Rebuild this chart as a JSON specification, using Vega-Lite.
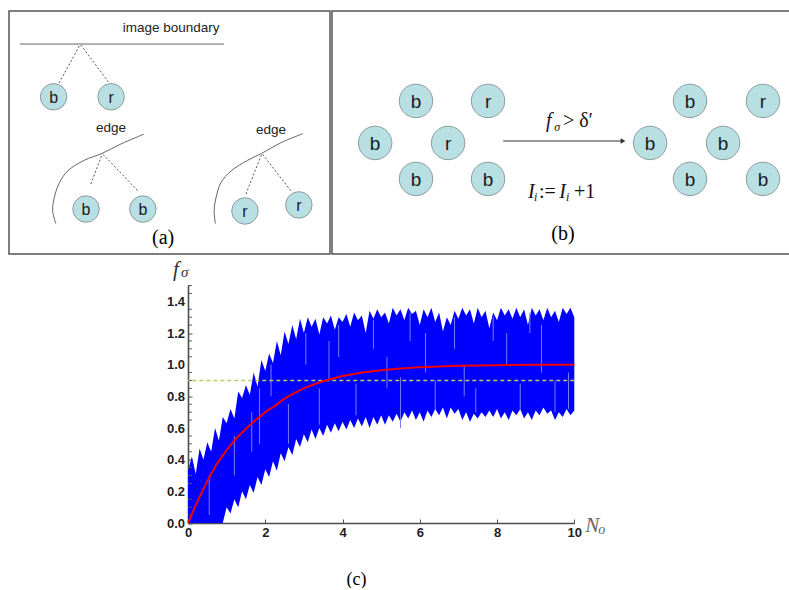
{
"$schema": "https://vega.github.io/schema/vega-lite/v6.json",
"background": "white",
"padding": {"left": 8, "top": 10, "right": 1, "bottom": 0},
"spacing": 3.5,
"config": {
  "view": {"stroke": null},
  "concat": {"spacing": 0},
  "text": {"font": "Liberation Sans"},
  "axis": {"grid": false, "domainColor": "#4d4d4d", "domainWidth": 1.6, "tickColor": "#555", "tickWidth": 1, "tickSize": -4, "labelFont": "Liberation Sans", "labelFontWeight": "bold", "labelFontSize": 13, "labelColor": "#222", "labelPadding": 7, "labelOverlap": false, "labelFlush": false}
},
"datasets": {
  "aSolid": [{"x": 3.4, "y": 86.4, "x2": 67.0, "y2": 86.4}],
  "aDotted": [
    {"x": 15.6, "y": 70.4, "x2": 22.1, "y2": 86.0},
    {"x": 22.4, "y": 86.0, "x2": 31.2, "y2": 70.4},
    {"x": 25.5, "y": 28.8, "x2": 29.0, "y2": 41.0},
    {"x": 29.3, "y": 41.0, "x2": 40.2, "y2": 25.9},
    {"x": 73.8, "y": 24.7, "x2": 78.7, "y2": 41.0},
    {"x": 79.0, "y": 41.0, "x2": 87.9, "y2": 25.9}
  ],
  "aCurves": [
    {"c": 1, "i": 0, "x": 14.6, "y": 12.5},
    {"c": 1, "i": 1, "x": 13.6, "y": 17.7},
    {"c": 1, "i": 2, "x": 14.1, "y": 23.2},
    {"c": 1, "i": 3, "x": 15.7, "y": 29.3},
    {"c": 1, "i": 4, "x": 18.3, "y": 34.2},
    {"c": 1, "i": 5, "x": 23.5, "y": 38.6},
    {"c": 1, "i": 6, "x": 29.0, "y": 41.4},
    {"c": 1, "i": 7, "x": 34.9, "y": 45.3},
    {"c": 1, "i": 8, "x": 42.0, "y": 49.3},
    {"c": 2, "i": 0, "x": 64.3, "y": 12.5},
    {"c": 2, "i": 1, "x": 63.9, "y": 17.7},
    {"c": 2, "i": 2, "x": 64.5, "y": 23.2},
    {"c": 2, "i": 3, "x": 66.0, "y": 29.3},
    {"c": 2, "i": 4, "x": 69.2, "y": 34.2},
    {"c": 2, "i": 5, "x": 74.4, "y": 38.6},
    {"c": 2, "i": 6, "x": 78.7, "y": 41.4},
    {"c": 2, "i": 7, "x": 84.7, "y": 45.8},
    {"c": 2, "i": 8, "x": 91.5, "y": 49.5}
  ],
  "aNodes": [
    {"x": 13.9, "y": 64.7, "t": "b"},
    {"x": 31.8, "y": 64.7, "t": "r"},
    {"x": 24.0, "y": 18.5, "t": "b"},
    {"x": 41.7, "y": 18.5, "t": "b"},
    {"x": 73.5, "y": 17.7, "t": "r"},
    {"x": 90.3, "y": 20.2, "t": "r"}
  ],
  "aText": [
    {"x": 50.5, "y": 93.0, "t": "image boundary"},
    {"x": 31.8, "y": 51.9, "t": "edge"},
    {"x": 81.6, "y": 51.0, "t": "edge"}
  ],
  "aCap": [{"x": 48.0, "y": 6.6, "t": "(a)"}],
  "bNodes": [
    {"x": 18.3, "y": 63.0, "t": "b"},
    {"x": 34.0, "y": 63.0, "t": "r"},
    {"x": 9.4, "y": 45.7, "t": "b"},
    {"x": 25.3, "y": 45.7, "t": "r"},
    {"x": 18.3, "y": 30.9, "t": "b"},
    {"x": 34.0, "y": 30.9, "t": "b"},
    {"x": 78.0, "y": 63.0, "t": "b"},
    {"x": 93.9, "y": 63.0, "t": "r"},
    {"x": 69.3, "y": 45.7, "t": "b"},
    {"x": 85.2, "y": 45.7, "t": "b"},
    {"x": 78.0, "y": 30.9, "t": "b"},
    {"x": 93.9, "y": 30.9, "t": "b"}
  ],
  "bArrow": [{"x": 37.3, "y": 46.5, "x2": 63.4, "y2": 46.5}],
  "bHead": [{"x": 63.4, "y": 46.5}],
  "bItal": [
    {"x": 42.7, "y": 23.0, "t": "I"},
    {"x": 49.5, "y": 23.0, "t": "I"},
    {"x": 46.6, "y": 52.3, "t": "f"}
  ],
  "bSub": [
    {"x": 44.0, "y": 21.8, "t": "i"},
    {"x": 51.0, "y": 21.8, "t": "i"},
    {"x": 48.4, "y": 50.6, "t": "σ"}
  ],
  "bNorm": [
    {"x": 45.1, "y": 23.0, "t": ":="},
    {"x": 52.7, "y": 23.0, "t": "+1"},
    {"x": 50.3, "y": 52.3, "t": "> δ′"}
  ],
  "bCap": [{"x": 50.3, "y": 8.2, "t": "(b)"}],
  "spacer": [{"t": ""}],
  "yMinor": [
    {"v": 0.05}, {"v": 0.1}, {"v": 0.15}, {"v": 0.25}, {"v": 0.3}, {"v": 0.35}, {"v": 0.45}, {"v": 0.5}, {"v": 0.55}, {"v": 0.65}, {"v": 0.7}, {"v": 0.75},
    {"v": 0.85}, {"v": 0.9}, {"v": 0.95}, {"v": 1.05}, {"v": 1.1}, {"v": 1.15}, {"v": 1.25}, {"v": 1.3}, {"v": 1.35}, {"v": 1.45}, {"v": 1.5}
  ],
  "yLabels": [{"v": 0}, {"v": 0.2}, {"v": 0.4}, {"v": 0.6}, {"v": 0.8}, {"v": 1.0}, {"v": 1.2}, {"v": 1.4}],
  "band": [
    {"N": 0.0, "hi": 0.33, "lo": 0}, {"N": 0.1, "hi": 0.42, "lo": 0}, {"N": 0.2, "hi": 0.31, "lo": 0}, {"N": 0.3, "hi": 0.47, "lo": 0}, {"N": 0.4, "hi": 0.40, "lo": 0},
    {"N": 0.5, "hi": 0.51, "lo": 0}, {"N": 0.6, "hi": 0.45, "lo": 0}, {"N": 0.7, "hi": 0.60, "lo": 0}, {"N": 0.8, "hi": 0.52, "lo": 0}, {"N": 0.9, "hi": 0.67, "lo": 0},
    {"N": 1.0, "hi": 0.63, "lo": 0.10}, {"N": 1.1, "hi": 0.72, "lo": 0.06}, {"N": 1.2, "hi": 0.66, "lo": 0.15}, {"N": 1.3, "hi": 0.83, "lo": 0.10}, {"N": 1.4, "hi": 0.79, "lo": 0.20},
    {"N": 1.5, "hi": 0.87, "lo": 0.15}, {"N": 1.6, "hi": 0.81, "lo": 0.24}, {"N": 1.7, "hi": 0.95, "lo": 0.19}, {"N": 1.8, "hi": 0.86, "lo": 0.29}, {"N": 1.9, "hi": 1.03, "lo": 0.24},
    {"N": 2.0, "hi": 0.96, "lo": 0.34}, {"N": 2.1, "hi": 1.07, "lo": 0.29}, {"N": 2.2, "hi": 1.01, "lo": 0.39}, {"N": 2.3, "hi": 1.15, "lo": 0.33}, {"N": 2.4, "hi": 1.06, "lo": 0.44},
    {"N": 2.5, "hi": 1.21, "lo": 0.39}, {"N": 2.6, "hi": 1.13, "lo": 0.48}, {"N": 2.7, "hi": 1.25, "lo": 0.43}, {"N": 2.8, "hi": 1.16, "lo": 0.53}, {"N": 2.9, "hi": 1.29, "lo": 0.48},
    {"N": 3.0, "hi": 1.20, "lo": 0.56}, {"N": 3.1, "hi": 1.30, "lo": 0.51}, {"N": 3.2, "hi": 1.24, "lo": 0.59}, {"N": 3.3, "hi": 1.29, "lo": 0.53}, {"N": 3.4, "hi": 1.19, "lo": 0.60},
    {"N": 3.5, "hi": 1.30, "lo": 0.55}, {"N": 3.6, "hi": 1.26, "lo": 0.62}, {"N": 3.7, "hi": 1.31, "lo": 0.57}, {"N": 3.8, "hi": 1.22, "lo": 0.63}, {"N": 3.9, "hi": 1.30, "lo": 0.58},
    {"N": 4.0, "hi": 1.27, "lo": 0.64}, {"N": 4.1, "hi": 1.32, "lo": 0.59}, {"N": 4.2, "hi": 1.24, "lo": 0.65}, {"N": 4.3, "hi": 1.33, "lo": 0.60}, {"N": 4.4, "hi": 1.28, "lo": 0.66},
    {"N": 4.5, "hi": 1.31, "lo": 0.61}, {"N": 4.6, "hi": 1.20, "lo": 0.67}, {"N": 4.7, "hi": 1.34, "lo": 0.60}, {"N": 4.8, "hi": 1.29, "lo": 0.67}, {"N": 4.9, "hi": 1.35, "lo": 0.62},
    {"N": 5.0, "hi": 1.30, "lo": 0.68}, {"N": 5.1, "hi": 1.33, "lo": 0.62}, {"N": 5.2, "hi": 1.26, "lo": 0.68}, {"N": 5.3, "hi": 1.36, "lo": 0.64}, {"N": 5.4, "hi": 1.31, "lo": 0.69},
    {"N": 5.5, "hi": 1.35, "lo": 0.64}, {"N": 5.6, "hi": 1.28, "lo": 0.70}, {"N": 5.7, "hi": 1.36, "lo": 0.66}, {"N": 5.8, "hi": 1.32, "lo": 0.71}, {"N": 5.9, "hi": 1.34, "lo": 0.65},
    {"N": 6.0, "hi": 1.25, "lo": 0.70}, {"N": 6.1, "hi": 1.35, "lo": 0.64}, {"N": 6.2, "hi": 1.30, "lo": 0.71}, {"N": 6.3, "hi": 1.36, "lo": 0.67}, {"N": 6.4, "hi": 1.27, "lo": 0.72},
    {"N": 6.5, "hi": 1.33, "lo": 0.68}, {"N": 6.6, "hi": 1.21, "lo": 0.73}, {"N": 6.7, "hi": 1.30, "lo": 0.66}, {"N": 6.8, "hi": 1.25, "lo": 0.73}, {"N": 6.9, "hi": 1.34, "lo": 0.69},
    {"N": 7.0, "hi": 1.29, "lo": 0.72}, {"N": 7.1, "hi": 1.36, "lo": 0.65}, {"N": 7.2, "hi": 1.31, "lo": 0.70}, {"N": 7.3, "hi": 1.35, "lo": 0.64}, {"N": 7.4, "hi": 1.26, "lo": 0.69},
    {"N": 7.5, "hi": 1.36, "lo": 0.66}, {"N": 7.6, "hi": 1.30, "lo": 0.70}, {"N": 7.7, "hi": 1.34, "lo": 0.67}, {"N": 7.8, "hi": 1.23, "lo": 0.71}, {"N": 7.9, "hi": 1.33, "lo": 0.67},
    {"N": 8.0, "hi": 1.28, "lo": 0.72}, {"N": 8.1, "hi": 1.36, "lo": 0.66}, {"N": 8.2, "hi": 1.31, "lo": 0.70}, {"N": 8.3, "hi": 1.35, "lo": 0.65}, {"N": 8.4, "hi": 1.29, "lo": 0.71},
    {"N": 8.5, "hi": 1.36, "lo": 0.68}, {"N": 8.6, "hi": 1.30, "lo": 0.72}, {"N": 8.7, "hi": 1.35, "lo": 0.66}, {"N": 8.8, "hi": 1.25, "lo": 0.70}, {"N": 8.9, "hi": 1.36, "lo": 0.65},
    {"N": 9.0, "hi": 1.31, "lo": 0.71}, {"N": 9.1, "hi": 1.35, "lo": 0.68}, {"N": 9.2, "hi": 1.28, "lo": 0.73}, {"N": 9.3, "hi": 1.36, "lo": 0.69}, {"N": 9.4, "hi": 1.30, "lo": 0.71},
    {"N": 9.5, "hi": 1.34, "lo": 0.65}, {"N": 9.6, "hi": 1.27, "lo": 0.70}, {"N": 9.7, "hi": 1.36, "lo": 0.67}, {"N": 9.8, "hi": 1.32, "lo": 0.72}, {"N": 9.9, "hi": 1.36, "lo": 0.68},
    {"N": 10.0, "hi": 1.30, "lo": 0.71}
  ],
  "stripes": [
    {"N": 0.55, "a": 0.05, "b": 0.3}, {"N": 1.2, "a": 0.3, "b": 0.55}, {"N": 1.65, "a": 0.45, "b": 0.7}, {"N": 2.15, "a": 0.8, "b": 1.0},
    {"N": 2.6, "a": 0.5, "b": 0.75}, {"N": 3.05, "a": 1.0, "b": 1.2}, {"N": 3.4, "a": 0.62, "b": 0.85}, {"N": 3.9, "a": 1.05, "b": 1.25},
    {"N": 4.35, "a": 0.68, "b": 0.88}, {"N": 4.8, "a": 1.1, "b": 1.28}, {"N": 5.5, "a": 0.6, "b": 0.92}, {"N": 5.75, "a": 1.15, "b": 1.33},
    {"N": 6.4, "a": 0.72, "b": 0.9}, {"N": 6.9, "a": 1.1, "b": 1.3}, {"N": 7.45, "a": 0.7, "b": 0.85}, {"N": 7.9, "a": 1.15, "b": 1.3},
    {"N": 8.6, "a": 0.72, "b": 0.88}, {"N": 8.85, "a": 1.2, "b": 1.33}, {"N": 9.5, "a": 0.7, "b": 0.9}, {"N": 9.85, "a": 0.72, "b": 0.95},
    {"N": 1.85, "a": 0.5, "b": 0.85}, {"N": 3.65, "a": 0.9, "b": 1.15}, {"N": 5.15, "a": 0.85, "b": 1.05}, {"N": 6.15, "a": 0.95, "b": 1.2},
    {"N": 7.15, "a": 0.8, "b": 1.0}, {"N": 8.25, "a": 1.0, "b": 1.2}, {"N": 9.15, "a": 0.95, "b": 1.25}
  ],
  "curve": [
    {"N": 0, "f": 0}, {"N": 0.25, "f": 0.14}, {"N": 0.5, "f": 0.265}, {"N": 0.75, "f": 0.375}, {"N": 1, "f": 0.46},
    {"N": 1.25, "f": 0.535}, {"N": 1.5, "f": 0.595}, {"N": 1.75, "f": 0.65}, {"N": 2, "f": 0.70}, {"N": 2.25, "f": 0.74},
    {"N": 2.5, "f": 0.785}, {"N": 2.75, "f": 0.82}, {"N": 3, "f": 0.85}, {"N": 3.25, "f": 0.875}, {"N": 3.5, "f": 0.895},
    {"N": 3.75, "f": 0.913}, {"N": 4, "f": 0.928}, {"N": 4.5, "f": 0.95}, {"N": 5, "f": 0.965}, {"N": 5.5, "f": 0.976},
    {"N": 6, "f": 0.984}, {"N": 6.5, "f": 0.989}, {"N": 7, "f": 0.993}, {"N": 8, "f": 0.997}, {"N": 9, "f": 0.999}, {"N": 10, "f": 1.0}
  ],
  "one": [{}]
},
"vconcat": [
  {
    "spacing": 0,
    "hconcat": [
      {
        "width": 321, "height": 243,
        "view": {"stroke": "#555", "strokeWidth": 1.5},
        "layer": [
          {"data": {"name": "aSolid"}, "mark": {"type": "rule", "color": "#666", "strokeWidth": 1},
           "encoding": {"x": {"field": "x", "type": "quantitative", "scale": {"domain": [0, 100], "nice": false, "zero": false}, "axis": null},
                        "y": {"field": "y", "type": "quantitative", "scale": {"domain": [0, 100], "nice": false, "zero": false}, "axis": null},
                        "x2": {"field": "x2"}, "y2": {"field": "y2"}}},
          {"data": {"name": "aDotted"}, "mark": {"type": "rule", "color": "#555", "strokeWidth": 1, "strokeDash": [2, 2]},
           "encoding": {"x": {"field": "x", "type": "quantitative"}, "y": {"field": "y", "type": "quantitative"}, "x2": {"field": "x2"}, "y2": {"field": "y2"}}},
          {"data": {"name": "aCurves"}, "mark": {"type": "line", "color": "#666", "strokeWidth": 1, "interpolate": "catmull-rom"},
           "encoding": {"x": {"field": "x", "type": "quantitative"}, "y": {"field": "y", "type": "quantitative"}, "order": {"field": "i", "type": "quantitative"}, "detail": {"field": "c"}}},
          {"data": {"name": "aNodes"}, "mark": {"type": "point", "shape": "circle", "filled": true, "size": 700, "fill": "#b8dfe2", "stroke": "#8c9c9e", "strokeWidth": 1, "opacity": 1},
           "encoding": {"x": {"field": "x", "type": "quantitative"}, "y": {"field": "y", "type": "quantitative"}}},
          {"data": {"name": "aNodes"}, "mark": {"type": "text", "fontSize": 16, "color": "#1a1a1a", "baseline": "middle", "dy": 1},
           "encoding": {"x": {"field": "x", "type": "quantitative"}, "y": {"field": "y", "type": "quantitative"}, "text": {"field": "t"}}},
          {"data": {"name": "aText"}, "mark": {"type": "text", "fontSize": 13.5, "color": "#222", "baseline": "middle"},
           "encoding": {"x": {"field": "x", "type": "quantitative"}, "y": {"field": "y", "type": "quantitative"}, "text": {"field": "t"}}},
          {"data": {"name": "aCap"}, "mark": {"type": "text", "font": "Liberation Serif", "fontSize": 20, "color": "#000", "baseline": "middle"},
           "encoding": {"x": {"field": "x", "type": "quantitative"}, "y": {"field": "y", "type": "quantitative"}, "text": {"field": "t"}}}
        ]
      },
      {
        "width": 459, "height": 243,
        "view": {"stroke": "#555", "strokeWidth": 1.5},
        "layer": [
          {"data": {"name": "bArrow"}, "mark": {"type": "rule", "color": "#333", "strokeWidth": 1},
           "encoding": {"x": {"field": "x", "type": "quantitative", "scale": {"domain": [0, 100], "nice": false, "zero": false}, "axis": null},
                        "y": {"field": "y", "type": "quantitative", "scale": {"domain": [0, 100], "nice": false, "zero": false}, "axis": null},
                        "x2": {"field": "x2"}, "y2": {"field": "y2"}}},
          {"data": {"name": "bHead"}, "mark": {"type": "point", "shape": "triangle-right", "filled": true, "size": 30, "color": "#333", "opacity": 1},
           "encoding": {"x": {"field": "x", "type": "quantitative"}, "y": {"field": "y", "type": "quantitative"}}},
          {"data": {"name": "bNodes"}, "mark": {"type": "point", "shape": "circle", "filled": true, "size": 1120, "fill": "#b8dfe2", "stroke": "#8c9c9e", "strokeWidth": 1, "opacity": 1},
           "encoding": {"x": {"field": "x", "type": "quantitative"}, "y": {"field": "y", "type": "quantitative"}}},
          {"data": {"name": "bNodes"}, "mark": {"type": "text", "fontSize": 19, "color": "#1a1a1a", "baseline": "middle", "dy": 1},
           "encoding": {"x": {"field": "x", "type": "quantitative"}, "y": {"field": "y", "type": "quantitative"}, "text": {"field": "t"}}},
          {"data": {"name": "bItal"}, "mark": {"type": "text", "font": "Liberation Serif", "fontStyle": "italic", "fontSize": 20, "color": "#111", "align": "left", "baseline": "alphabetic"},
           "encoding": {"x": {"field": "x", "type": "quantitative"}, "y": {"field": "y", "type": "quantitative"}, "text": {"field": "t"}}},
          {"data": {"name": "bSub"}, "mark": {"type": "text", "font": "Liberation Serif", "fontStyle": "italic", "fontSize": 12, "color": "#111", "align": "left", "baseline": "alphabetic"},
           "encoding": {"x": {"field": "x", "type": "quantitative"}, "y": {"field": "y", "type": "quantitative"}, "text": {"field": "t"}}},
          {"data": {"name": "bNorm"}, "mark": {"type": "text", "font": "Liberation Serif", "fontSize": 20, "color": "#111", "align": "left", "baseline": "alphabetic"},
           "encoding": {"x": {"field": "x", "type": "quantitative"}, "y": {"field": "y", "type": "quantitative"}, "text": {"field": "t"}}},
          {"data": {"name": "bCap"}, "mark": {"type": "text", "font": "Liberation Serif", "fontSize": 20, "color": "#000", "baseline": "middle"},
           "encoding": {"x": {"field": "x", "type": "quantitative"}, "y": {"field": "y", "type": "quantitative"}, "text": {"field": "t"}}}
        ]
      }
    ]
  },
  {
    "spacing": 0,
    "hconcat": [
      {
        "width": 156.4, "height": 10,
        "data": {"name": "spacer"},
        "mark": {"type": "text"},
        "encoding": {"text": {"field": "t"}}
      },
      {
        "width": 386.3, "height": 237.5,
        "layer": [
          {"data": {"name": "band"}, "mark": {"type": "area", "color": "#0000ff", "opacity": 1},
           "encoding": {
             "x": {"field": "N", "type": "quantitative", "scale": {"domain": [0, 10], "nice": false, "zero": false},
                   "axis": {"values": [0, 0.5, 1, 1.5, 2, 2.5, 3, 3.5, 4, 4.5, 5, 5.5, 6, 6.5, 7, 7.5, 8, 8.5, 9, 9.5, 10],
                            "labelExpr": "(datum.value % 2 == 0) ? format(datum.value, 'd') : ''",
                            "labelOverlap": false,
                            "title": "(c)", "titleFont": "Liberation Serif", "titleFontSize": 18, "titleFontWeight": "normal", "titleColor": "#000", "titleX": 168, "titleY": 56, "titleBaseline": "middle"}},
             "y": {"field": "hi", "type": "quantitative", "scale": {"domain": [0, 1.5], "nice": false, "zero": false},
                   "axis": {"values": [0, 0.2, 0.4, 0.6, 0.8, 1.0, 1.2, 1.4], "labels": false, "title": null}},
             "y2": {"field": "lo"}}},
          {"data": {"name": "stripes"}, "mark": {"type": "rule", "color": "#7a7aff", "strokeWidth": 1},
           "encoding": {"x": {"field": "N", "type": "quantitative"}, "y": {"field": "a", "type": "quantitative"}, "y2": {"field": "b"}}},
          {"data": {"name": "yMinor"}, "mark": {"type": "rule", "color": "#555", "strokeWidth": 1},
           "encoding": {"y": {"field": "v", "type": "quantitative"}, "x": {"datum": 0}, "x2": {"datum": 0.1}}},
          {"data": {"name": "yLabels"}, "mark": {"type": "text", "font": "Liberation Sans", "fontWeight": "bold", "fontSize": 13, "color": "#222", "align": "right", "baseline": "middle", "dx": -3, "dy": 0.5},
           "encoding": {"y": {"field": "v", "type": "quantitative"}, "x": {"datum": 0}, "text": {"field": "v", "type": "quantitative", "format": ".1f"}}},
          {"data": {"name": "one"}, "mark": {"type": "rule", "color": "#bccb62", "strokeDash": [4, 3], "strokeWidth": 1.5},
           "encoding": {"y": {"datum": 0.9}}},
          {"data": {"name": "curve"}, "mark": {"type": "line", "color": "#f00000", "strokeWidth": 2},
           "encoding": {"x": {"field": "N", "type": "quantitative"}, "y": {"field": "f", "type": "quantitative"}}},
          {"data": {"name": "one"}, "mark": {"type": "text", "text": "N", "font": "Liberation Serif", "fontStyle": "italic", "fontSize": 21, "color": "#666", "align": "left", "baseline": "alphabetic", "dx": 11, "dy": 9},
           "encoding": {"x": {"datum": 10}, "y": {"datum": 0}}},
          {"data": {"name": "one"}, "mark": {"type": "text", "text": "o", "font": "Liberation Serif", "fontStyle": "italic", "fontSize": 14, "color": "#666", "align": "left", "baseline": "alphabetic", "dx": 24, "dy": 11},
           "encoding": {"x": {"datum": 10}, "y": {"datum": 0}}},
          {"data": {"name": "one"}, "mark": {"type": "text", "text": "f", "font": "Liberation Serif", "fontStyle": "italic", "fontSize": 21, "color": "#333", "align": "left", "baseline": "alphabetic", "dx": -15, "dy": -10},
           "encoding": {"x": {"datum": 0}, "y": {"datum": 1.5}}},
          {"data": {"name": "one"}, "mark": {"type": "text", "text": "σ", "font": "Liberation Serif", "fontStyle": "italic", "fontSize": 15, "color": "#333", "align": "left", "baseline": "alphabetic", "dx": -7, "dy": -9},
           "encoding": {"x": {"datum": 0}, "y": {"datum": 1.5}}}
        ]
      }
    ]
  }
]
}
